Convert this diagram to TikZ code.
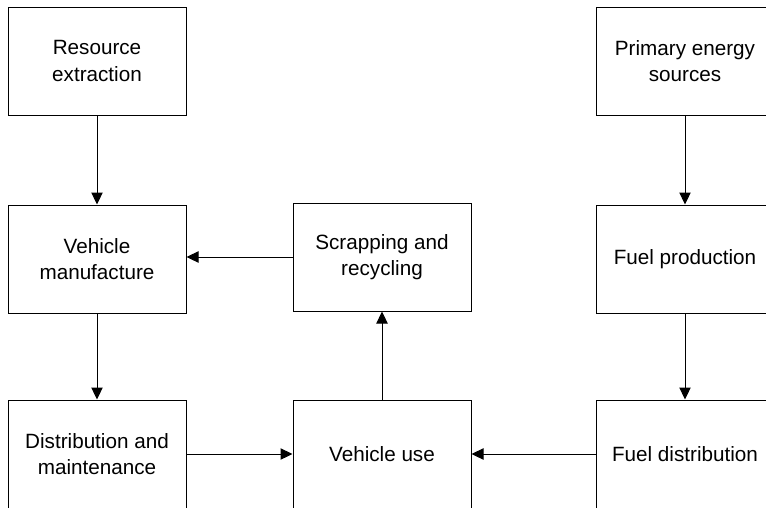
\documentclass[tikz,border=0pt]{standalone}
\usepackage{fontspec}
\setmainfont{Liberation Sans}
\usetikzlibrary{arrows.meta}

\tikzset{every picture/.style={line width=0.75pt}}

\begin{document}
\begin{tikzpicture}[x=0.75pt,y=0.75pt,yscale=-1,xscale=1,
	stage/.style={draw, minimum width=133.5pt, minimum height=81pt, align=center,
		inner sep=0pt, font=\fontsize{15.5}{20}\selectfont},
	flow/.style={-{Triangle[length=9pt,width=8.5pt]}}]
	\useasboundingbox (0,0) rectangle (766,507);
	\clip (0,0) rectangle (766,507);

	% vehicle chain
	\node[stage] (res) at (97,61) {Resource\\extraction};
	\node[stage] (man) at (97,259) {Vehicle\\manufacture};
	\node[stage] (dist) at (97,454) {Distribution and\\maintenance};
	\node[stage] (scrap) at (382,257) {Scrapping and\\recycling};
	\node[stage] (use) at (382,454) {Vehicle use};

	% fuel chain
	\node[stage] (prim) at (685,61) {Primary energy\\sources};
	\node[stage] (fprod) at (685,259) {Fuel production};
	\node[stage] (fdist) at (685,454) {Fuel distribution};

	% connectors
	\draw[flow] (res) -- (man);
	\draw[flow] (man) -- (dist);
	\draw[flow] (dist) -- (use);
	\draw[flow] (use) -- (scrap);
	\draw[flow] (scrap) -- (man.east |- scrap);
	\draw[flow] (prim) -- (fprod);
	\draw[flow] (fprod) -- (fdist);
	\draw[flow] (fdist) -- (use);
\end{tikzpicture}
\end{document}
